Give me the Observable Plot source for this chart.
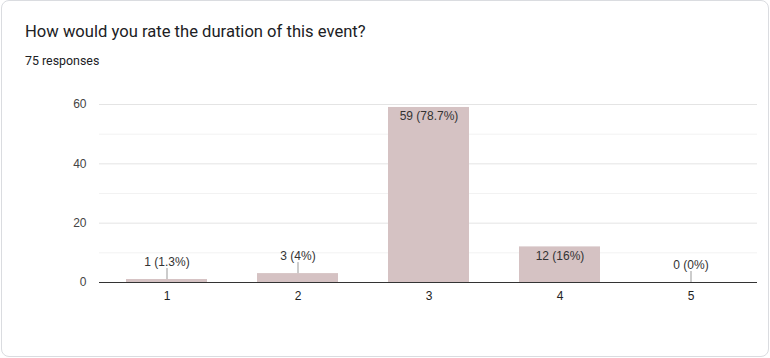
<!DOCTYPE html>
<html>
<head>
<meta charset="utf-8">
<script src="https://cdn.jsdelivr.net/npm/d3@7"></script>
<script src="https://cdn.jsdelivr.net/npm/@observablehq/plot@0.6"></script>
<style>
  html, body { margin: 0; padding: 0; background: #fff; }
  body { width: 770px; height: 358px; position: relative; overflow: hidden; font-family: Roboto, "Noto Sans", sans-serif; }
  .card { position: absolute; left: 1px; top: 0px; width: 766px; height: 355px; border: 1px solid #dadce0; border-radius: 8px; box-sizing: content-box; }
  .title { position: absolute; left: 25px; top: 22px; font-size: 16.6px; color: #202124; white-space: nowrap; }
  .subtitle { position: absolute; left: 25px; top: 53px; font-size: 12.4px; color: #202124; white-space: nowrap; }
  #chart { position: absolute; left: 0; top: 0; }
</style>
</head>
<body>
<div class="card"></div>
<div class="title">How would you rate the duration of this event?</div>
<div class="subtitle">75 responses</div>
<div id="chart"></div>
<script>
const categories = ["1", "2", "3", "4", "5"];
const counts = [1, 3, 59, 12, 0];
const percentLabels = ["1.3%", "4%", "78.7%", "16%", "0%"];
const yTicks = [0, 20, 40, 60];
const minorTicks = [10, 30, 50];

const data = categories.map((c, i) => ({
  cat: c,
  value: counts[i],
  label: `${counts[i]} (${percentLabels[i]})`
}));

const height = 358, marginTop = 104, marginBottom = 76;
const pxPerUnit = (height - marginTop - marginBottom) / 60;
const leader = 11 / pxPerUnit;
const inside = data.filter(d => d.value >= 10);
const outside = data.filter(d => d.value < 10);

const chart = Plot.plot({
  width: 770,
  height,
  marginLeft: 99,
  marginRight: 13,
  marginTop,
  marginBottom,
  style: { fontFamily: "'Liberation Sans', Arial, sans-serif", fontSize: "12px", background: "transparent", overflow: "visible" },
  x: { domain: categories, paddingInner: 0.385, paddingOuter: 0.1925, label: null },
  y: { domain: [0, 60], label: null },
  marks: [
    Plot.ruleY(minorTicks, { stroke: "#f2f2f2" }),
    Plot.ruleY(yTicks.filter(t => t > 0), { stroke: "#e4e4e4" }),
    Plot.axisY({ ticks: yTicks, tickSize: 0, tickPadding: 13, color: "#444", fontSize: 12, label: null }),
    Plot.axisX({ tickSize: 0, tickPadding: 9, color: "#222", fontSize: 12, label: null }),
    Plot.barY(data, { x: "cat", y: "value", fill: "#d5c2c3" }),
    Plot.ruleX(outside, { x: "cat", y1: "value", y2: d => d.value + leader, stroke: "#999", strokeWidth: 1 }),
    Plot.text(outside, { x: "cat", y: "value", text: "label", dy: -17, fill: "#333", fontSize: 12 }),
    Plot.text(inside, { x: "cat", y: "value", text: "label", dy: 9, fill: "#333", fontSize: 12 }),
    Plot.ruleY([0], { stroke: "#333", strokeWidth: 1 })
  ]
});
document.getElementById("chart").appendChild(chart);
</script>
</body>
</html>
